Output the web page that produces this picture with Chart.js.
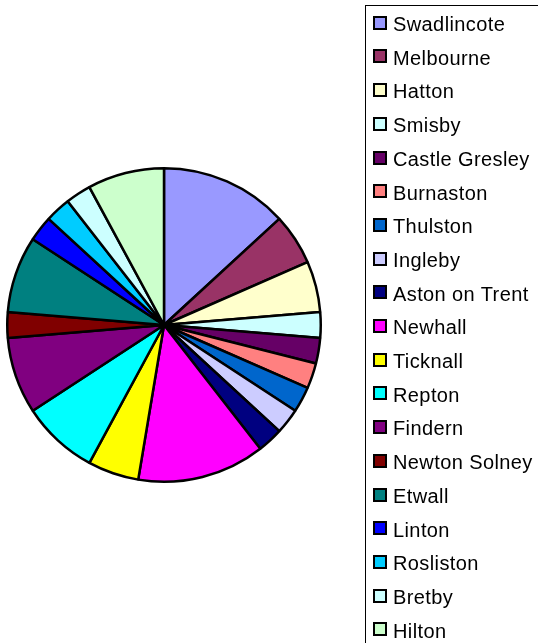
<!DOCTYPE html>
<html>
<head>
<meta charset="utf-8">
<script src="https://cdn.jsdelivr.net/npm/chart.js@4.4.0/dist/chart.umd.min.js"></script>
<style>
  html, body { margin: 0; padding: 0; background: #fff; }
  #wrap { position: relative; width: 538px; height: 643px; overflow: hidden; }
  #myChart { position: absolute; left: 0; top: 0; }
  #legend {
    position: absolute; left: 365px; top: 5px; width: 200px; height: 660px;
    border: 1px solid #000; box-sizing: border-box;
    font-family: "Liberation Sans", Arial, sans-serif; font-size: 20px; letter-spacing: 0.4px; color: #000;
  }
  .item { position: absolute; left: 7px; height: 22px; line-height: 22px; white-space: nowrap; }
  .box { display: inline-block; width: 10px; height: 10px; border: 2px solid #000; vertical-align: middle; margin-right: 6px; position: relative; top: -3px; }
</style>
</head>
<body>
<div id="wrap">
  <canvas id="myChart" width="538" height="643"></canvas>
  <div id="legend"></div>
</div>
<script>
var labels = [
  "Swadlincote", "Melbourne", "Hatton", "Smisby", "Castle Gresley",
  "Burnaston", "Thulston", "Ingleby", "Aston on Trent", "Newhall",
  "Ticknall", "Repton", "Findern", "Newton Solney", "Etwall",
  "Linton", "Rosliston", "Bretby", "Hilton"
];
var counts = [5, 2, 2, 1, 1, 1, 1, 1, 1, 5, 2, 3, 3, 1, 3, 1, 1, 1, 3];
var colours = [
  "#9999FF", "#993366", "#FFFFCC", "#CCFFFF", "#660066",
  "#FF8080", "#0066CC", "#CCCCFF", "#000080", "#FF00FF",
  "#FFFF00", "#00FFFF", "#800080", "#800000", "#008080",
  "#0000FF", "#00CCFF", "#CCFFFF", "#CCFFCC"
];

// legend on the right, one row per town
var legend = document.getElementById('legend');
labels.forEach(function(name, i){
  var row = document.createElement('div');
  row.className = 'item';
  row.style.top = (7 + i * 33.7) + 'px';
  row.innerHTML = '<span class="box" style="background:' + colours[i] + '"></span>' + name;
  legend.appendChild(row);
});

const ctx = document.getElementById('myChart');
new Chart(ctx, {
  type: 'pie',
  data: {
    labels: labels,
    datasets: [{
      data: counts,
      backgroundColor: colours,
      borderColor: '#000',
      borderWidth: 2.5
    }]
  },
  options: {
    responsive: false,
    animation: false,
    layout: { padding: { left: 6, right: 216, top: 167, bottom: 160 } },
    plugins: {
      legend: { display: false },
      tooltip: { enabled: false }
    }
  }
});
</script>
</body>
</html>
